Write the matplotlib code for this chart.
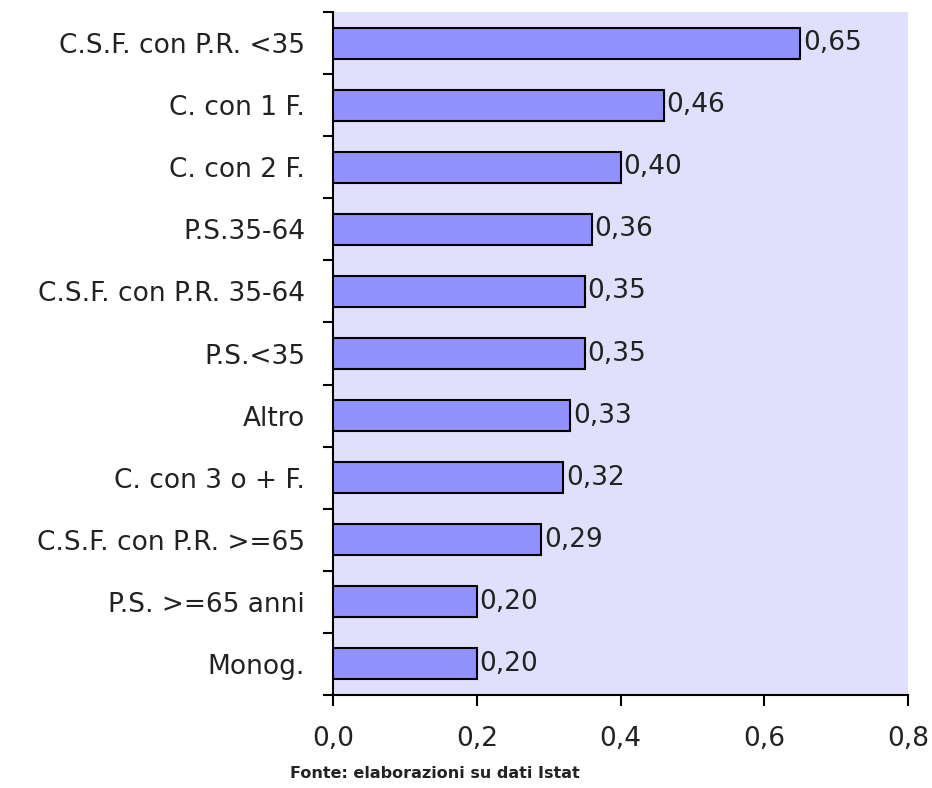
import matplotlib
matplotlib.use("Agg")
import matplotlib.pyplot as plt
import numpy as np

categories = ["C.S.F. con P.R. <35", "C. con 1 F.", "C. con 2 F.", "P.S.35-64",
              "C.S.F. con P.R. 35-64", "P.S.<35", "Altro", "C. con 3 o + F.",
              "C.S.F. con P.R. >=65", "P.S. >=65 anni", "Monog."]
values = [0.65, 0.46, 0.40, 0.36, 0.35, 0.35, 0.33, 0.32, 0.29, 0.20, 0.20]
value_labels = ["0,65", "0,46", "0,40", "0,36", "0,35", "0,35", "0,33", "0,32", "0,29", "0,20", "0,20"]
xticks = [0.0, 0.2, 0.4, 0.6, 0.8]
xtick_labels = ["0,0", "0,2", "0,4", "0,6", "0,8"]
source = "Fonte: elaborazioni su dati Istat"

plt.rcParams['font.family'] = ['DejaVu Sans']

fig = plt.figure(figsize=(9.32, 7.88), dpi=100)
ax = fig.add_axes([333/932, 1 - 695/788, 575/932, (695-12)/788])
ax.set_facecolor('#e0e0fc')

n = len(categories)
y = np.arange(n)
ax.barh(y, values, height=0.5, color='#9191ff', edgecolor='black', linewidth=1.5, zorder=3)
for yi, v, lab in zip(y, values, value_labels):
    ax.text(v + 0.004, yi, lab, va='center', ha='left', fontsize=19, color='#222222', zorder=4)

ax.set_ylim(n - 0.5, -0.5)
ax.set_xlim(0, 0.8)
ax.set_yticks(y)
ax.set_yticklabels(categories, fontsize=19, color='#222222')
ax.set_yticks(np.arange(-0.5, n, 1.0), minor=True)
ax.tick_params(axis='y', which='major', length=0, pad=20)
ax.tick_params(axis='y', which='minor', length=7, width=1.5, color='black')
ax.set_xticks(xticks)
ax.set_xticklabels(xtick_labels, fontsize=19, color='#222222')
ax.tick_params(axis='x', length=8, width=1.5, pad=14)

for s in ['top', 'right']:
    ax.spines[s].set_visible(False)
for s in ['left', 'bottom']:
    ax.spines[s].set_linewidth(1.5)
    ax.spines[s].set_color('black')

fig.text(435/932, 1 - 773/788, source, ha='center', va='center', fontsize=11.5,
         fontweight='bold', color='#222222')

fig.savefig("out.png", dpi=100)
